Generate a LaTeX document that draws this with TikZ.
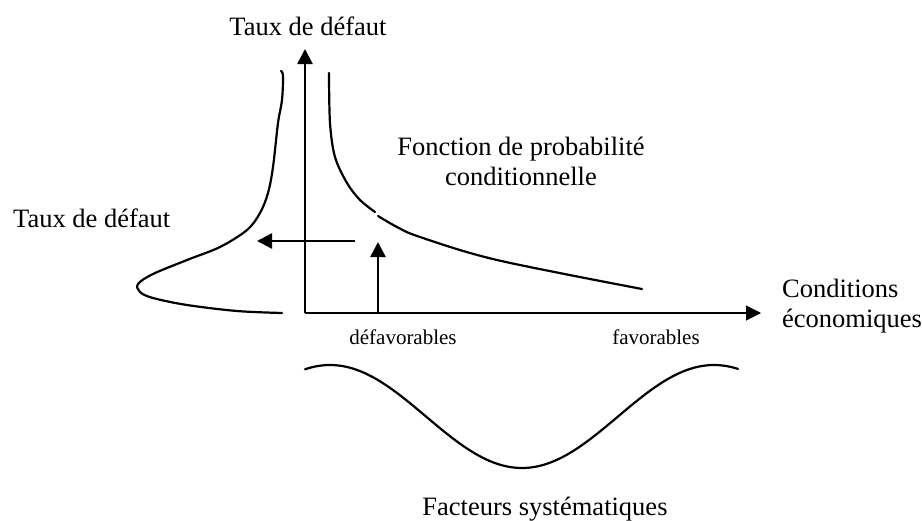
\documentclass[tikz,border=0pt]{standalone}
\usepackage{fontspec}
\setmainfont{Liberation Serif}
\usetikzlibrary{arrows.meta}
\begin{document}
\begin{tikzpicture}[x=1pt,y=-1pt,
  lab/.style={font=\fontsize{26.5}{30}\selectfont, inner sep=0pt},
  small/.style={font=\fontsize{21}{24}\selectfont, inner sep=0pt},
  thickline/.style={line width=2.4pt},
  thinline/.style={line width=1.1pt},
  curve/.style={line width=2.2pt, line join=round, line cap=round},
  tipped/.style={-{Triangle[length=15pt,width=15pt]}}]
\useasboundingbox (0,0) rectangle (922,520);
% coordinates
\coordinate (O) at (305,313);
\coordinate (Ytip) at (305,49);
\coordinate (Xtip) at (761,313);
\coordinate (S1) at (328,313);
\coordinate (S2a) at (498,313);
\coordinate (S2b) at (592,313);
\coordinate (Vbase) at (378,313);
\coordinate (Vtip) at (378,242);
\coordinate (Hstart) at (355,241);
\coordinate (Htip) at (257,241);
% axes
\draw[thinline, tipped] (O) -- (Xtip);
\draw[thickline] (O) -- (S1);
\draw[thickline] (S2a) -- (S2b);
\draw[thickline, tipped] (O) -- (Ytip);
% arrows
\draw[thickline, tipped] (Vbase) -- (Vtip);
\draw[thickline, tipped] (Hstart) -- (Htip);
% default rate density (left)
\draw[curve] plot[smooth, tension=0.55] coordinates {(281,71) (283,76) (282,100) (278,123) (273,167) (268,193) (260,213) (247,230) (220,247) (187,260) (153,274) (138,284) (140,292) (153,298) (187,305) (237,311) (282,313)};
% conditional probability function
\draw[curve] plot[smooth, tension=0.55] coordinates {(329,73) (330,123) (335,157) (347,183) (360,200) (375,212)};
\draw[curve] plot[smooth, tension=0.55] coordinates {(378,216) (397,227) (420,237) (497,260) (642,289)};
% systematic factor density (bottom)
\draw[curve] plot[domain=305:738, samples=80, smooth] (\x, {365+51.5*(1-cos(0.9375*(\x-330)))});
% labels
\node[lab, anchor=base] (ytitle) at (308,35) {Taux de défaut};
\node[lab, anchor=base west] (ltitle) at (13,227) {Taux de défaut};
\node[lab, align=center, anchor=base] (fonc) at (521,185) {Fonction de probabilité\\conditionnelle};
\node[lab, align=left, anchor=base west] (cond) at (782,327) {Conditions\\économiques};
\node[small, anchor=base] (defav) at (403,344) {défavorables};
\node[small, anchor=base] (fav) at (656,344) {favorables};
\node[lab, anchor=base] (fact) at (545,515) {Facteurs systématiques};
\end{tikzpicture}
\end{document}
